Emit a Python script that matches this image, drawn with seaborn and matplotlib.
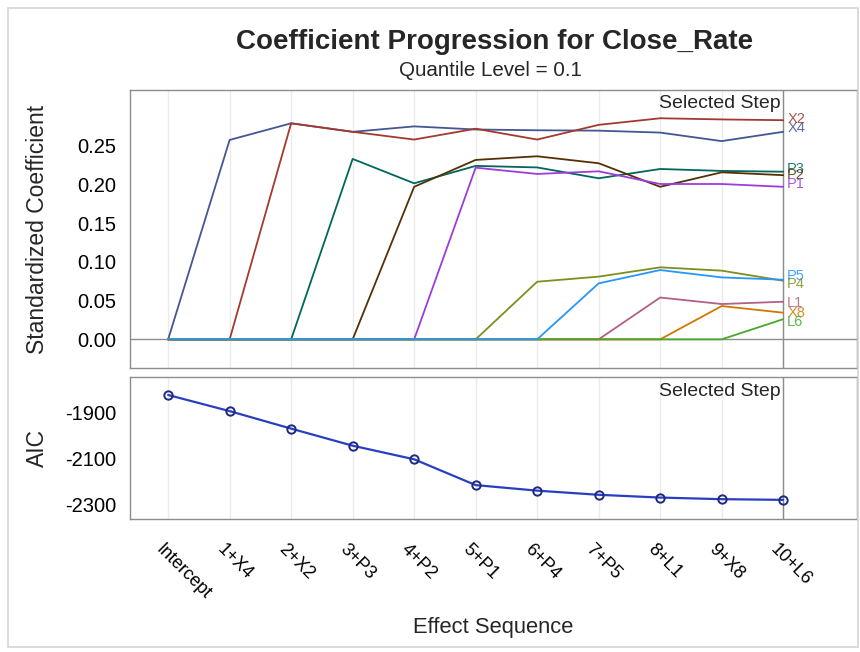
import matplotlib
matplotlib.use("Agg")
import matplotlib.pyplot as plt
import matplotlib.transforms as mtransforms
from matplotlib.patches import Rectangle
import seaborn as sns
import pandas as pd
import numpy as np

# ---------------- data ----------------
steps = ["Intercept", "1+X4", "2+X2", "3+P3", "4+P2", "5+P1",
         "6+P4", "7+P5", "8+L1", "9+X8", "10+L6"]

X4 = [0, 0.2575, 0.279, 0.268, 0.275, 0.271, 0.270, 0.2695, 0.267, 0.256, 0.268]
X2 = [0, 0, 0.279, 0.268, 0.258, 0.272, 0.258, 0.277, 0.2855, 0.284, 0.283]
P3 = [0, 0, 0, 0.233, 0.2015, 0.224, 0.222, 0.208, 0.220, 0.2175, 0.2165]
P2 = [0, 0, 0, 0, 0.197, 0.2317, 0.2364, 0.2274, 0.197, 0.2157, 0.212]
P1 = [0, 0, 0, 0, 0, 0.2217, 0.2136, 0.217, 0.2006, 0.2006, 0.197]
P4 = [0, 0, 0, 0, 0, 0, 0.0744, 0.081, 0.093, 0.0887, 0.0757]
P5 = [0, 0, 0, 0, 0, 0, 0, 0.0723, 0.0895, 0.080, 0.077]
L1 = [0, 0, 0, 0, 0, 0, 0, 0, 0.054, 0.0456, 0.0486]
X8 = [0, 0, 0, 0, 0, 0, 0, 0, 0, 0.043, 0.0344]
L6 = [0, 0, 0, 0, 0, 0, 0, 0, 0, 0, 0.026]

aic = [-1823, -1893, -1969, -2043, -2102, -2214, -2238, -2256, -2268, -2275, -2278]

effects = {"X4": X4, "X2": X2, "P3": P3, "P2": P2, "P1": P1,
           "P4": P4, "L1": L1, "X8": X8, "L6": L6, "P5": P5}
colors = {"X4": "#445694", "X2": "#A23A2E", "P3": "#01665E", "P2": "#543005",
          "P1": "#9D3CDB", "P4": "#7F8E1F", "P5": "#2597FA", "L1": "#B26084",
          "X8": "#D17800", "L6": "#47A82A"}
# label nudges (pixels) for the end-of-curve labels
nudge = {"X2": 1, "X4": 4, "P3": 3, "P2": 0, "P1": 3, "P5": 4, "P4": -3,
         "L1": -1, "X8": 0, "L6": -3}
selected = 10

step_idx = np.arange(len(steps))
coef_df = pd.DataFrame([
    {"step": i, "effect": e, "coef": v}
    for e, vals in effects.items() for i, v in enumerate(vals)
])
aic_df = pd.DataFrame({"step": step_idx, "AIC": aic})

# ---------------- style ----------------
sns.set_style("white")
plt.rcParams["font.family"] = ["Liberation Sans", "DejaVu Sans"]
plt.rcParams["axes.unicode_minus"] = False
frame_col = "#8c8c8c"
grid_col = "#ebebeb"

fig = plt.figure(figsize=(8.6, 6.52), dpi=100)
W, H = 860, 652
ax1 = fig.add_axes([130 / W, 1 - 368 / H, (857 - 130) / W, (368 - 90) / H])
ax2 = fig.add_axes([130 / W, 1 - 519 / H, (857 - 130) / W, (519 - 377) / H])

fig.patches.append(Rectangle((8 / W, 5 / H), (858 - 8) / W, (644 - 5) / H,
                             transform=fig.transFigure, fill=False,
                             edgecolor="#d6d6d6", lw=1.2))

# ---------------- panels ----------------
for ax in (ax1, ax2):
    for i in step_idx:
        ax.axvline(i, color=grid_col, lw=1.0, zorder=0)
    ax.axvline(selected, color=frame_col, lw=1.0, zorder=1)
    ax.set_xlim(-0.62, 11.2)
    for s in ax.spines.values():
        s.set_color(frame_col)
        s.set_linewidth(1.0)
    ax.tick_params(axis="both", colors=frame_col, labelcolor="black",
                   labelsize=14.5, length=7, width=1, direction="out", pad=3)

ax1.axhline(0, color=frame_col, lw=1.0, zorder=1)
sns.lineplot(data=coef_df, x="step", y="coef", hue="effect",
             hue_order=list(effects.keys()), palette=colors,
             lw=1.3, legend=False, ax=ax1, zorder=3)
ax1.set_ylim(-0.037, 0.322)
yt = [0, 0.05, 0.10, 0.15, 0.20, 0.25]
ax1.set_yticks(yt)
ax1.set_yticklabels([f"{t:.2f}" for t in yt])
ax1.set_xticks([])
ax1.set_xlabel("")
ax1.set_ylabel("Standardized Coefficient", fontsize=16.5)
ax1.text(selected - 0.04, 0.304, "Selected Step", ha="right", va="center",
         fontsize=14)

for e, vals in effects.items():
    ax1.annotate(e, xy=(selected, vals[-1]), xytext=(4, nudge[e]),
                 textcoords="offset pixels", ha="left", va="center",
                 color=colors[e], fontsize=10.5, alpha=0.85)

sns.lineplot(data=aic_df, x="step", y="AIC", color="#2a3fc0", lw=1.6,
             marker="o", markersize=6, markerfacecolor="none",
             markeredgecolor="#1c2a80", markeredgewidth=1.4, ax=ax2, zorder=3)
ax2.set_ylim(-2361, -1745)
ax2.set_yticks([-1900, -2100, -2300])
ax2.set_ylabel("AIC", fontsize=16.5)
ax2.text(selected - 0.04, -1809, "Selected Step", ha="right", va="center",
         fontsize=14)
ax2.set_xticks(step_idx)
ax2.set_xticklabels(steps, rotation=-45, ha="left", va="top",
                    rotation_mode="anchor", fontsize=13)
ax2.tick_params(axis="x", length=8, pad=8)
off = mtransforms.ScaledTranslation(-4 / 100, 0, fig.dpi_scale_trans)
for lab in ax2.get_xticklabels():
    lab.set_transform(lab.get_transform() + off)
ax2.set_xlabel("")

fig.text(493 / W, 1 - 628 / H, "Effect Sequence", ha="center", va="center",
         fontsize=15.8)

ax1.yaxis.set_label_coords(-0.112, 0.5)
ax2.yaxis.set_label_coords(-0.112, 0.5)

# ---------------- titles ----------------
fig.text(495 / W, 1 - 42 / H, "Coefficient Progression for Close_Rate",
         ha="center", va="center", fontsize=20, fontweight="bold")
fig.text(490 / W, 1 - 70 / H, "Quantile Level = 0.1", ha="center",
         va="center", fontsize=14.8)

fig.savefig("out.png", dpi=100)
